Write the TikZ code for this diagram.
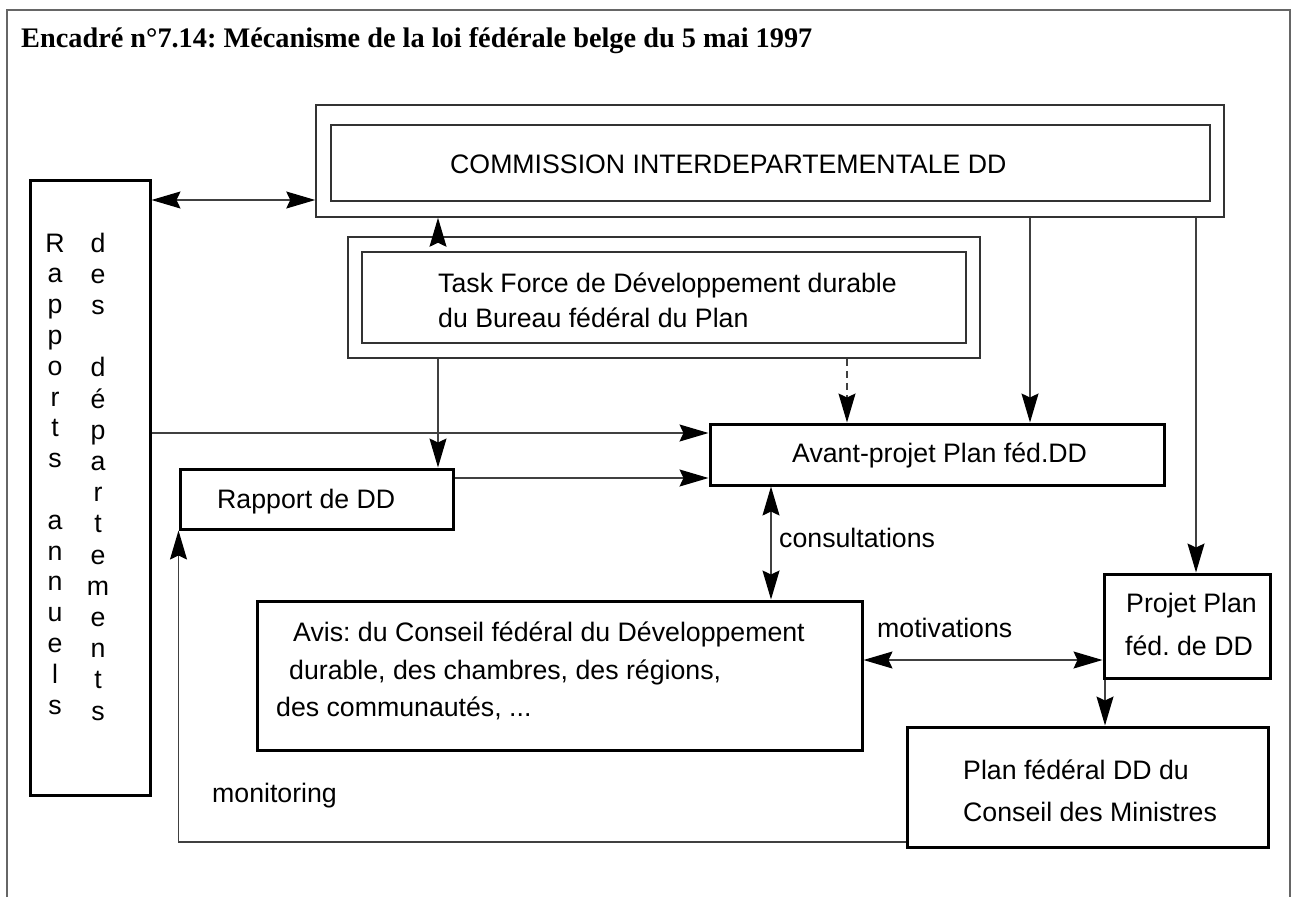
\documentclass[tikz,border=0pt]{standalone}
\usepackage{fontspec}
\setmainfont{Liberation Sans}
\newfontfamily\titlefont{Liberation Serif}
\usetikzlibrary{arrows.meta,calc}
\frenchspacing
\begin{document}
\begin{tikzpicture}[x=1pt,y=-1pt,
  font=\fontsize{26.7}{32}\selectfont,
  thickbox/.style={draw=black, line width=3pt, inner sep=0pt},
  thinbox/.style={draw=black!80, line width=1.5pt, inner sep=0pt},
  txt/.style={anchor=base west, inner sep=0pt},
  letter/.style={anchor=base, inner sep=0pt},
  conn/.style={draw=black!75, line width=1.3pt},
  tip/.tip={Stealth[length=29pt,width=17pt,inset=4pt,color=black]},
  arr/.style={-tip},
  darr/.style={tip-tip},
  frame/.style={draw=black!60, line width=1.5pt}]
\useasboundingbox (0,0) rectangle (1297,897);
\draw[frame] (7,897) -- (7,10) -- (1290,10) -- (1290,897);

\node[anchor=base west, inner sep=0pt, font={\titlefont\bfseries\fontsize{28.3}{30}\selectfont}] (title) at (21,47)
  {Encadré n°7.14: Mécanisme de la loi fédérale belge du 5 mai 1997};

% Commission
\node[thinbox, minimum width=908pt, minimum height=112pt] (comO) at (770,161) {};
\node[thinbox, minimum width=879pt, minimum height=76pt] (comI) at (770.5,163) {};
\node[txt] (comT) at (450,173) {COMMISSION INTERDEPARTEMENTALE DD};

% Rapports annuels
\node[thickbox, minimum width=120pt, minimum height=615pt] (rap) at (90,487.5) {};
\foreach \ch [count=\i from 0] in {R,a,p,p,o,r,t,s,{},a,n,n,u,e,l,s}
  \node[letter] (ca\i) at (55,{252+30.8*\i}) {\ch};
\foreach \ch [count=\i from 0] in {d,e,s,{},d,é,p,a,r,t,e,m,e,n,t,s}
  \node[letter] (cb\i) at (98,{252+31.2*\i}) {\ch};

% Task force
\node[thinbox, minimum width=632pt, minimum height=121pt] (taskO) at (664,297.5) {};
\node[thinbox, minimum width=604pt, minimum height=91pt] (taskI) at (664,297.5) {};
\node[txt] (taskT1) at (438,292) {Task Force de Développement durable};
\node[txt] (taskT2) at (438,327) {du Bureau fédéral du Plan};

% Rapport de DD
\node[thickbox, minimum width=273pt, minimum height=60pt] (rdd) at (316.5,499) {};
\node[txt] (rddT) at (217,508) {Rapport de DD};

% Avant-projet
\node[thickbox, minimum width=454pt, minimum height=61pt] (avp) at (937,454.5) {};
\node[txt] (avpT) at (792,462) {Avant-projet Plan féd.DD};

% Avis
\node[thickbox, minimum width=605pt, minimum height=149pt] (avis) at (559.5,675.5) {};
\node[txt] (avis1) at (293,641) {Avis: du Conseil fédéral du Développement};
\node[txt] (avis2) at (289,679) {durable, des chambres, des régions,};
\node[txt] (avis3) at (276,716) {des communautés, ...};

% Projet plan
\node[thickbox, minimum width=166pt, minimum height=104pt] (proj) at (1187,626) {};
\node[txt] (proj1) at (1126,612) {Projet Plan};
\node[txt] (proj2) at (1125,655) {féd. de DD};

% Plan federal
\node[thickbox, minimum width=361pt, minimum height=120pt] (plan) at (1087.5,787) {};
\node[txt] (plan1) at (963,779) {Plan fédéral DD du};
\node[txt] (plan2) at (963,821) {Conseil des Ministres};

% labels
\node[txt] (lcons) at (779,547) {consultations};
\node[txt] (lmot) at (877,637) {motivations};
\node[txt] (lmon) at (212,802) {monitoring};

% helper coordinates
\coordinate (yA) at (0,200);
\coordinate (yB) at (0,433);
\coordinate (yC) at (0,478);
\coordinate (yD) at (0,660);
\coordinate (yE) at (0,842);
\coordinate (xA) at (438,0);
\coordinate (xB) at (847,0);
\coordinate (xC) at (1030,0);
\coordinate (xD) at (1196,0);
\coordinate (xE) at (771,0);
\coordinate (xF) at (1105,0);

% connectors
\draw[conn, darr] (rap.east |- yA) -- (comO.west |- yA);
\draw[conn, arr] (taskO.north -| xA) -- (comO.south -| xA);
\draw[conn, arr] (taskO.south -| xA) -- (rdd.north -| xA);
\draw[conn, arr, dash pattern=on 7pt off 5pt] (taskO.south -| xB) -- (avp.north -| xB);
\draw[conn, arr] (comO.south -| xC) -- (avp.north -| xC);
\draw[conn, arr] (comO.south -| xD) -- (proj.north -| xD);
\draw[conn, arr] (rap.east |- yB) -- (avp.west |- yB);
\draw[conn, arr] (rdd.east |- yC) -- (avp.west |- yC);
\draw[conn, darr] (avp.south -| xE) -- (avis.north -| xE);
\draw[conn, darr] (avis.east |- yD) -- (proj.west |- yD);
\draw[conn, arr] (proj.south -| xF) -- (plan.north -| xF);
\draw[conn, arr] (plan.west |- yE) -| (rdd.south west);
\end{tikzpicture}
\end{document}
